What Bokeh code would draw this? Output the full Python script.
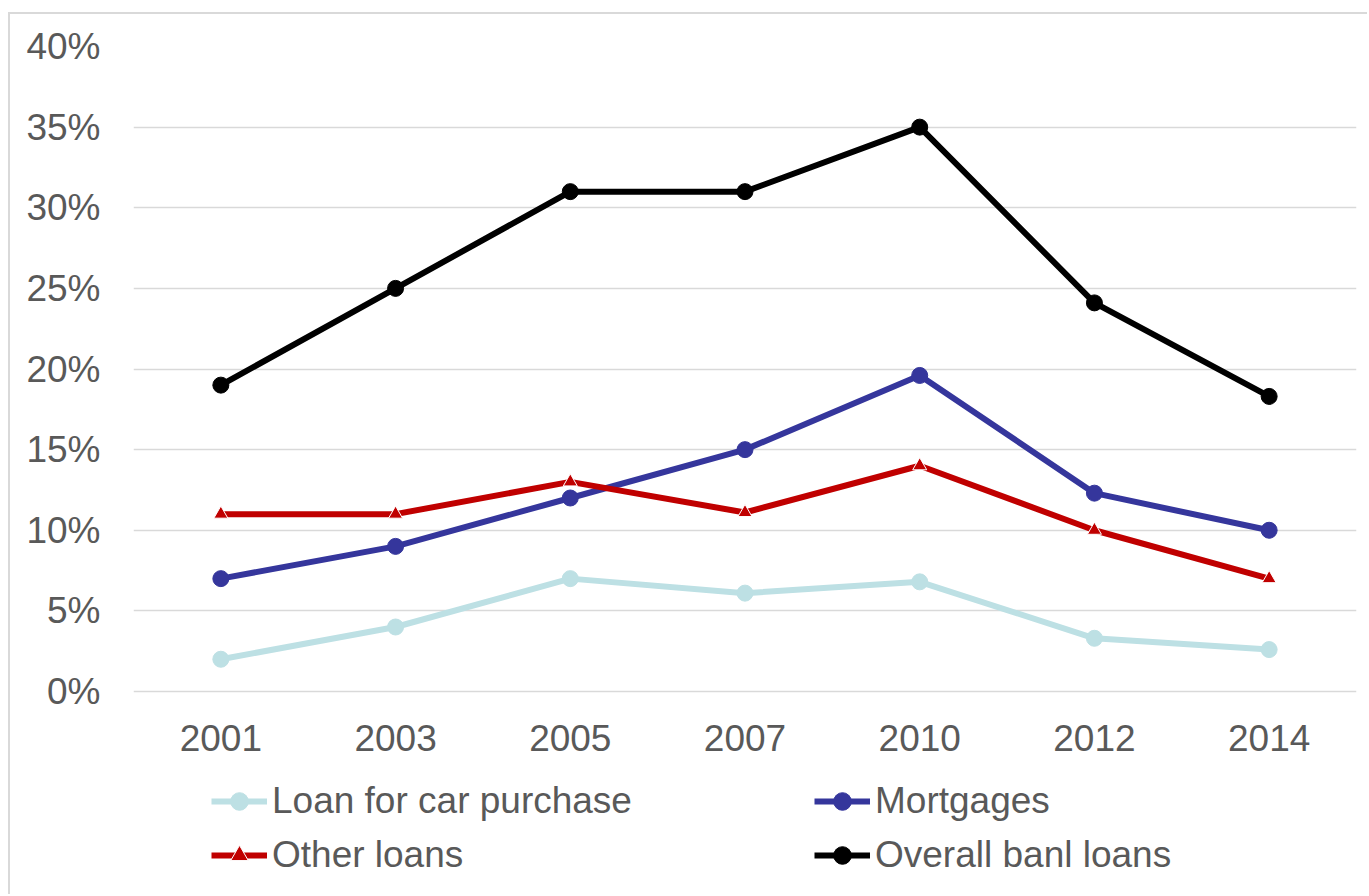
from bokeh.plotting import figure
from bokeh.models import (ColumnDataSource, FactorRange, Range1d, Legend, LegendItem,
                          NumeralTickFormatter, FixedTicker)
from bokeh.core.properties import value
from bokeh.embed import file_html
from bokeh.resources import INLINE

years = ["2001", "2003", "2005", "2007", "2010", "2012", "2014"]
car_loans = [0.020, 0.040, 0.070, 0.061, 0.068, 0.033, 0.026]
mortgages = [0.070, 0.090, 0.120, 0.150, 0.196, 0.123, 0.100]
other_loans = [0.110, 0.110, 0.130, 0.111, 0.140, 0.100, 0.070]
overall_loans = [0.190, 0.250, 0.310, 0.310, 0.350, 0.241, 0.183]
y_ticks = [0, 0.05, 0.10, 0.15, 0.20, 0.25, 0.30, 0.35, 0.40]

series = [
    ("Loan for car purchase", car_loans, "#bde0e4", "circle"),
    ("Mortgages", mortgages, "#35369c", "circle"),
    ("Other loans", other_loans, "#c00000", "triangle"),
    ("Overall banl loans", overall_loans, "#000000", "circle"),
]

FONT = "Liberation Sans"
GRAY = "#595959"

# page offset: 8px margin + 2px border on left, 12px margin + 2px border on top
W, H = 1369 - 10, 896 - 14
TOP, BOTTOM = 32, 0            # frame from figure y=32 to figure bottom
PX_PER_UNIT = 645 / 0.40       # 0%..40% spans 645 px
Y_MIN = -(205 / PX_PER_UNIT)   # frame extends below 0% to hold labels & legend

p = figure(width=W, height=H, output_backend="svg", toolbar_location=None,
           x_range=FactorRange(*years, range_padding=0), y_range=Range1d(Y_MIN, 0.40),
           min_border_left=123, min_border_right=13, min_border_top=TOP,
           min_border_bottom=BOTTOM)
p.styles = {"margin-left": "8px", "margin-top": "12px",
            "border-left": "2px solid #d9d9d9", "border-top": "2px solid #d9d9d9"}
p.outline_line_color = None
p.background_fill_color = "white"
p.border_fill_color = "white"

p.xgrid.grid_line_color = None
p.ygrid.grid_line_color = "#d9d9d9"
p.ygrid.grid_line_width = 1.5

p.xaxis.visible = False
p.yaxis.ticker = FixedTicker(ticks=y_ticks)
p.yaxis.formatter = NumeralTickFormatter(format="0%")
ax = p.yaxis[0]
ax.axis_line_color = None
ax.major_tick_line_color = None
ax.minor_tick_line_color = None
ax.major_tick_out = 0
ax.major_tick_in = 0
ax.major_label_text_font = FONT
ax.major_label_text_font_size = "37px"
ax.major_label_text_color = GRAY
ax.major_label_standoff = 33

# category labels under the 0% line
p.text(x=years, y=[-46 / PX_PER_UNIT] * len(years), text=years,
       text_font=value(FONT), text_font_size="37px", text_color=GRAY,
       text_align="center", text_baseline="middle")

items = {}
for name, vals, color, marker in series:
    src = ColumnDataSource(dict(x=years, y=vals))
    r_line = p.line("x", "y", source=src, line_color=color, line_width=6)
    if marker == "circle":
        r_mark = p.scatter("x", "y", source=src, marker="circle", size=16,
                           fill_color=color, line_color=color)
    else:
        r_mark = p.scatter("x", "y", source=src, marker="triangle", size=14,
                           fill_color=color, line_color="white", line_width=1)
    items[name] = LegendItem(label=name, renderers=[r_line, r_mark])

def make_legend(names, x, y):
    lg = Legend(items=[items[n] for n in names], location=(x, y), orientation="vertical")
    lg.border_line_color = None
    lg.background_fill_alpha = 0
    lg.label_text_font = FONT
    lg.label_text_font_size = "37px"
    lg.label_text_color = GRAY
    lg.glyph_width = 56
    lg.glyph_height = 44
    lg.label_height = 44
    lg.label_standoff = 5
    lg.spacing = 10
    lg.padding = 0
    lg.margin = 0
    return lg

p.add_layout(make_legend(["Loan for car purchase", "Other loans"], 78, 19))
p.add_layout(make_legend(["Mortgages", "Overall banl loans"], 681, 19))

open("out.html", "w").write(file_html(p, INLINE))
